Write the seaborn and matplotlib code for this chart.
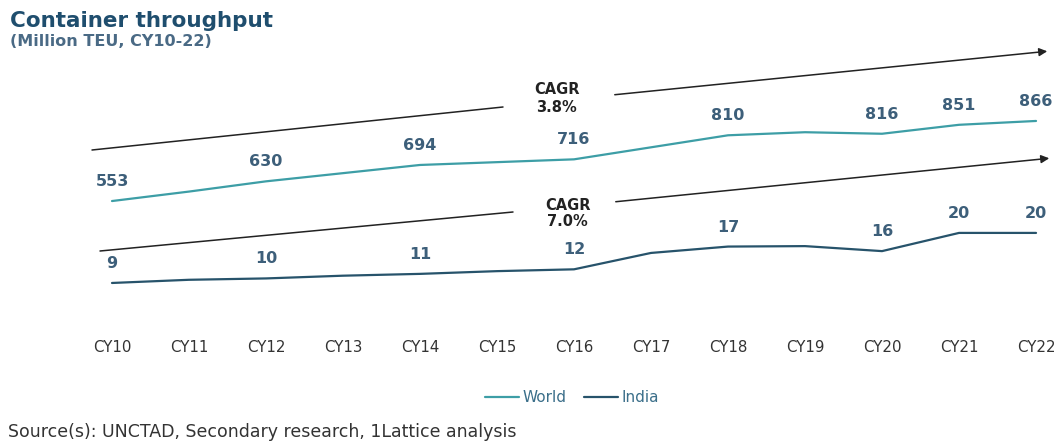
import matplotlib
matplotlib.use("Agg")
import matplotlib.pyplot as plt
import seaborn as sns
import pandas as pd
from matplotlib.lines import Line2D

years = ["CY10", "CY11", "CY12", "CY13", "CY14", "CY15", "CY16",
         "CY17", "CY18", "CY19", "CY20", "CY21", "CY22"]
world = [553, 590, 630, 662, 694, 705, 716, 763, 810, 822, 816, 851, 866]
india = [9, 9.7, 10, 10.6, 11, 11.6, 12, 15.6, 17, 17.1, 16, 20, 20]
world_labels = {"CY10": "553", "CY12": "630", "CY14": "694", "CY16": "716",
                "CY18": "810", "CY20": "816", "CY21": "851", "CY22": "866"}
india_labels = {"CY10": "9", "CY12": "10", "CY14": "11", "CY16": "12",
                "CY18": "17", "CY20": "16", "CY21": "20", "CY22": "20"}

world_color = "#3d9ea6"
india_color = "#27536b"
label_color = "#3d5f7a"

sns.set_style("white")
plt.rcParams["font.family"] = ["DejaVu Sans"]

df = pd.DataFrame({"year": years, "idx": range(len(years)), "world": world, "india": india})

fig = plt.figure(figsize=(10.54, 4.44), dpi=100)
ax = fig.add_axes([0.0598, 0.2568, 0.9355, 0.6419])
ax2 = ax.twinx()

sns.lineplot(data=df, x="idx", y="world", ax=ax, color=world_color, linewidth=1.6)
sns.lineplot(data=df, x="idx", y="india", ax=ax2, color=india_color, linewidth=1.6)

ax.set_xlim(-0.636, 12.169)
ax.set_ylim(49, 1163)
ax2.set_ylim(-1.33, 61.3)

for a in (ax, ax2):
    for s in a.spines.values():
        s.set_visible(False)
    a.set_yticks([])
    a.set_ylabel("")
ax.set_xlabel("")
ax.set_xticks(df["idx"])
ax.set_xticklabels(years, fontsize=10.8, color="#333333")
ax.tick_params(axis="x", length=0, pad=7)

for i, (yr, v) in enumerate(zip(years, world)):
    if yr in world_labels:
        ax.annotate(world_labels[yr], (i, v), xytext=(0, 14), textcoords="offset points",
                    ha="center", va="center", fontsize=11.5, fontweight="bold", color=label_color)
for i, (yr, v) in enumerate(zip(years, india)):
    if yr in india_labels:
        ax2.annotate(india_labels[yr], (i, v), xytext=(0, 14), textcoords="offset points",
                     ha="center", va="center", fontsize=11.5, fontweight="bold", color=label_color)

W, H = 1054, 444


def fc(x, y):
    return (x / W, 1 - y / H)


# CAGR arrows
fig.add_artist(Line2D(*zip(fc(92, 150), fc(503, 107)), transform=fig.transFigure,
                      color="#222222", linewidth=1.1))
ax.annotate("", xy=fc(1050, 51), xytext=fc(612, 95), xycoords="figure fraction",
            textcoords="figure fraction",
            arrowprops=dict(arrowstyle="-|>", color="#222222", lw=1.1, mutation_scale=12))
fig.add_artist(Line2D(*zip(fc(100, 251), fc(513, 212)), transform=fig.transFigure,
                      color="#222222", linewidth=1.1))
ax.annotate("", xy=fc(1052, 158), xytext=fc(613, 202), xycoords="figure fraction",
            textcoords="figure fraction",
            arrowprops=dict(arrowstyle="-|>", color="#222222", lw=1.1, mutation_scale=12))

cagr_kw = dict(ha="center", va="center", fontsize=10.5, fontweight="bold", color="#222222")
fig.text(*fc(557, 89), "CAGR", **cagr_kw)
fig.text(*fc(556, 107), "3.8%", **cagr_kw)
fig.text(*fc(568, 205), "CAGR", **cagr_kw)
fig.text(*fc(567, 221), "7.0%", **cagr_kw)

fig.text(*fc(10, 21), "Container throughput", ha="left", va="center", fontsize=15.5,
         fontweight="bold", color="#1f4e6e")
fig.text(*fc(10, 42), "(Million TEU, CY10-22)", ha="left", va="center", fontsize=11.5,
         fontweight="bold", color="#4a6a85")
fig.text(*fc(8, 432), "Source(s): UNCTAD, Secondary research, 1Lattice analysis", ha="left",
         va="center", fontsize=12.5, color="#333333")

handles = [Line2D([], [], color=world_color, linewidth=1.6),
           Line2D([], [], color=india_color, linewidth=1.6)]
leg = fig.legend(handles, ["World", "India"], loc="center", bbox_to_anchor=fc(572, 398),
                 ncol=2, frameon=False, fontsize=11, handlelength=2.2, handletextpad=0.2,
                 columnspacing=1.2)
for t in leg.get_texts():
    t.set_color("#3b6f8a")

fig.savefig("out.png", dpi=100)
